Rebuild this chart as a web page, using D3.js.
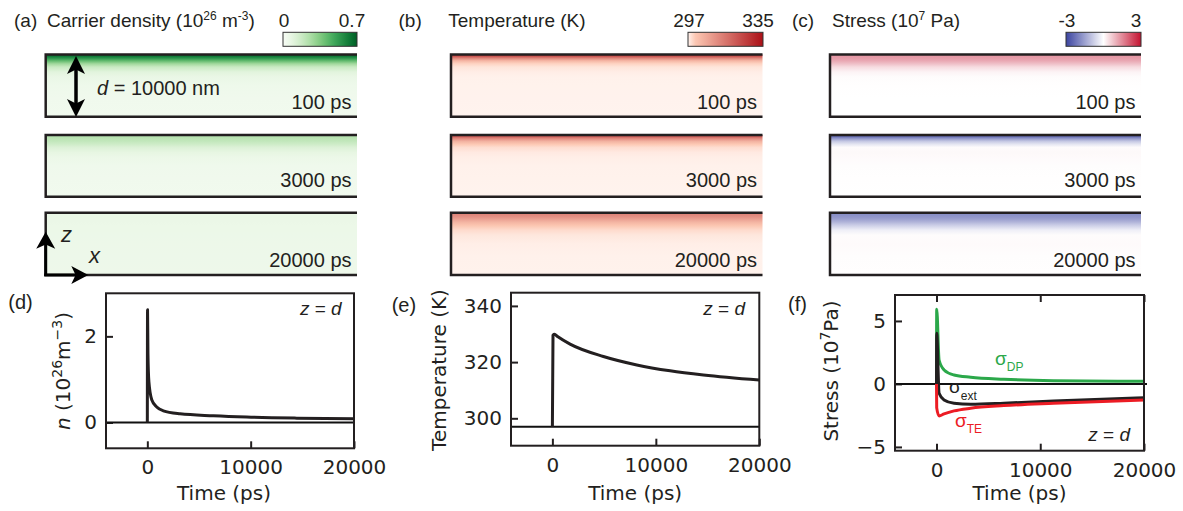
<!DOCTYPE html>
<html>
<head>
<meta charset="utf-8">
<script src="https://cdn.jsdelivr.net/npm/d3@7"></script>
<style>
  body { margin: 0; background: #fff; }
  svg { display: block; }
</style>
</head>
<body>
<svg id="fig"></svg>
<script>
// ---------- data ----------
const snapLabels = ['100 ps', '3000 ps', '20000 ps'];
// depth from top of film (fraction of d) for the colour maps
const depthFrac = [0, 0.03, 0.06, 0.1, 0.15, 0.2, 0.28, 0.36, 0.5, 0.7, 1];

// (a) carrier density, 10^26 m^-3
const carrier100   = [0.66, 0.62, 0.54, 0.42, 0.28, 0.18, 0.1, 0.065, 0.045, 0.035, 0.03];
const carrier3000  = [0.23, 0.23, 0.22, 0.2, 0.165, 0.12, 0.08, 0.055, 0.042, 0.036, 0.032];
const carrier20000 = [0.065, 0.065, 0.064, 0.062, 0.06, 0.058, 0.056, 0.054, 0.052, 0.05, 0.048];
// (b) temperature, K
const temp100   = [329, 322, 313, 304, 299.6, 298.2, 297.5, 297.2, 297.1, 297.05, 297];
const temp3000  = [324, 319, 312, 305, 300.5, 298.8, 297.8, 297.4, 297.2, 297.1, 297];
const temp20000 = [313.6, 313, 311.5, 308.5, 304.5, 301.5, 299, 298, 297.4, 297.2, 297.1];
// (c) stress, 10^7 Pa
const stress100   = [1.3, 1.3, 1.25, 1.1, 0.8, 0.45, 0.15, 0.04, 0.01, 0, 0];
const stress3000  = [-2.6, -2.2, -1.6, -0.9, -0.4, 0.05, 0.08, 0.06, 0.03, 0.01, 0];
const stress20000 = [-1.8, -1.8, -1.72, -1.55, -1.2, -0.8, -0.25, 0.04, 0.06, 0.03, 0.01];

const carrierBar = [0, 0.7];
const tempBar = [297, 335];
const stressBar = [-3, 3];

// (d) carrier density at z = d
const timeN    = [0, 20, 60, 150, 426, 910, 1550, 3165, 6390, 9620, 14460, 20000];
const densityN = [0, 2.62, 1.6, 0.95, 0.53, 0.36, 0.27, 0.2, 0.155, 0.125, 0.10, 0.085];
// (e) temperature at z = d
const timeT = [0, 60, 200, 500, 1710, 4930, 8160, 11380, 14600, 20000];
const tempT = [297, 329.6, 329.9, 329.1, 326.4, 322, 319, 316.9, 315.4, 313.6];
const tempBase = 297;
// (f) stress at z = d
const timeS    = [0, 20, 250, 730, 1690, 3290, 6490, 11280, 20000];
const sigmaDP  = [0, 5.93, 1.9, 1.11, 0.71, 0.53, 0.37, 0.26, 0.21];
const sigmaExt = [0, 4.02, -0.74, -1.27, -1.53, -1.61, -1.53, -1.35, -1.09];
const sigmaTE  = [0, -1.9, -2.54, -2.38, -2.14, -1.93, -1.72, -1.53, -1.27];

const timeTicks = [0, 10000, 20000];

// ---------- setup ----------
const W = 1183, H = 511;
const INK = '#231f20';
const ARIAL = 'Liberation Sans, Arial, sans-serif';
const DEJAVU = 'DejaVu Sans, sans-serif';

const svg = d3.select('#fig').attr('width', W).attr('height', H);
const defs = svg.append('defs');

// text with super/subscripts: parts = [{t, size, dy, it, fill}]
function rich(g, x, y, parts, opts) {
  const t = g.append('text').attr('x', x).attr('y', y)
    .attr('font-family', opts.family).attr('font-size', opts.size)
    .attr('fill', opts.fill || INK);
  if (opts.anchor) t.attr('text-anchor', opts.anchor);
  if (opts.transform) t.attr('transform', opts.transform);
  let shift = 0;
  parts.forEach(p => {
    const target = p.dy || 0;
    const ts = t.append('tspan').text(p.t).attr('dy', target - shift);
    shift = target;
    if (p.size) ts.attr('font-size', p.size);
    if (p.it) ts.attr('font-style', 'italic');
    if (p.fill) ts.attr('fill', p.fill);
  });
  return t;
}

// ---------- colour maps (top row) ----------
const carrierColor = d3.scaleSequential(d3.interpolateGreens).domain([0, 0.76]);
const tempColor = d3.scaleLinear().domain([297, 300.5, 335])
  .range([d3.interpolateReds(0.01), d3.interpolateReds(0.2), d3.interpolateReds(0.85)]);
const stressColor = d3.scaleLinear().domain([-3, 0, 3]).range(['#3b44a0', '#ffffff', '#c41230']);

const rowBands = [[54.5, 116.7], [135, 196.7], [212.7, 275]];
const rowLabelY = [109, 186.5, 266.5];

const mapPanels = [
  { key: 'a', x0: 45.7, x1: 357, color: carrierColor, profiles: [carrier100, carrier3000, carrier20000],
    bar: carrierBar, barFmt: d => d === 0 ? '0' : d.toFixed(1), bx0: 283, bx1: 357 },
  { key: 'b', x0: 451, x1: 762.5, color: tempColor, profiles: [temp100, temp3000, temp20000],
    bar: tempBar, barFmt: d => String(d), bx0: 688, bx1: 763 },
  { key: 'c', x0: 830, x1: 1141, color: stressColor, profiles: [stress100, stress3000, stress20000],
    bar: stressBar, barFmt: d => (d < 0 ? '-' : '') + Math.abs(d), bx0: 1066, bx1: 1141 }
];

const topG = svg.append('g');
const offScale = d3.scaleLinear().domain([0, 1]).range([0, 100]);

mapPanels.forEach(p => {
  p.profiles.forEach((vals, i) => {
    const [yT, yB] = rowBands[i];
    const id = `grad-${p.key}-${i}`;
    defs.append('linearGradient').attr('id', id)
      .attr('x1', 0).attr('y1', 0).attr('x2', 0).attr('y2', 1)
      .selectAll('stop').data(depthFrac).join('stop')
      .attr('offset', d => offScale(d) + '%')
      .attr('stop-color', (d, j) => p.color(vals[j]));
    topG.append('rect').attr('x', p.x0).attr('y', yT)
      .attr('width', p.x1 - p.x0).attr('height', yB - yT)
      .attr('fill', `url(#${id})`);
    topG.append('path')
      .attr('d', `M${p.x1},${yT}H${p.x0}V${yB}H${p.x1}`)
      .attr('fill', 'none').attr('stroke', INK).attr('stroke-width', 2.5);
    topG.append('text').attr('x', p.x1 - 5.5).attr('y', rowLabelY[i])
      .attr('text-anchor', 'end').attr('font-family', ARIAL).attr('font-size', 20)
      .attr('fill', INK).text(snapLabels[i]);
  });

  // colour bar
  const gid = `bar-${p.key}`;
  const frac = d3.scaleLinear().domain([0, 1]).range(p.bar);
  defs.append('linearGradient').attr('id', gid)
    .selectAll('stop').data(d3.range(0, 1.0001, 0.05)).join('stop')
    .attr('offset', d => offScale(d) + '%')
    .attr('stop-color', d => p.color(frac(d)));
  topG.append('rect').attr('x', p.bx0).attr('y', 32.3)
    .attr('width', p.bx1 - p.bx0).attr('height', 14)
    .attr('fill', `url(#${gid})`).attr('stroke', '#333').attr('stroke-width', 1);
  const bs = d3.scaleLinear().domain(p.bar).range([p.bx0 + 1, p.bx1 - 5]);
  topG.selectAll(null).data(p.bar).join('text')
    .attr('x', d => bs(d)).attr('y', 27)
    .attr('text-anchor', 'middle').attr('font-family', ARIAL).attr('font-size', 19)
    .attr('fill', INK).text(p.barFmt);
});

// titles
const tOpt = { family: ARIAL, size: 19 };
rich(topG, 14, 27, [{ t: '(a)' }], tOpt);
rich(topG, 47, 27, [{ t: 'Carrier density (10' }, { t: '26', size: 12, dy: -7 }, { t: ' m' }, { t: '-3', size: 12, dy: -7 }, { t: ')' }], tOpt);
rich(topG, 398.5, 27, [{ t: '(b)' }], tOpt);
rich(topG, 448.3, 27, [{ t: 'Temperature (K)' }], tOpt);
rich(topG, 792, 27, [{ t: '(c)' }], tOpt);
rich(topG, 832, 27, [{ t: 'Stress (10' }, { t: '7', size: 12, dy: -7 }, { t: ' Pa)' }], tOpt);

// thickness arrow and d label
function arrowHead(g, x, y, dir, len, wid) {
  let pts;
  if (dir === 'up') pts = [[x, y], [x - wid / 2, y + len], [x, y + len * 0.75], [x + wid / 2, y + len]];
  if (dir === 'down') pts = [[x, y], [x - wid / 2, y - len], [x, y - len * 0.75], [x + wid / 2, y - len]];
  if (dir === 'right') pts = [[x, y], [x - len, y - wid / 2], [x - len * 0.75, y], [x - len, y + wid / 2]];
  g.append('polygon').attr('points', pts.map(p => p.join(',')).join(' ')).attr('fill', '#000');
}
topG.append('line').attr('x1', 76).attr('x2', 76).attr('y1', 62).attr('y2', 110)
  .attr('stroke', '#000').attr('stroke-width', 3.5);
arrowHead(topG, 76, 56, 'up', 18, 18);
arrowHead(topG, 76, 117, 'down', 18, 18);
rich(topG, 97, 95, [{ t: 'd', it: true }, { t: ' = 10000 nm' }], { family: ARIAL, size: 20 });

// coordinate arrows
topG.append('line').attr('x1', 45.7).attr('x2', 45.7).attr('y1', 276).attr('y2', 240)
  .attr('stroke', '#000').attr('stroke-width', 3);
arrowHead(topG, 45.7, 231.7, 'up', 17, 19);
topG.append('line').attr('x1', 44.2).attr('x2', 80).attr('y1', 275).attr('y2', 275)
  .attr('stroke', '#000').attr('stroke-width', 3);
arrowHead(topG, 88.3, 275, 'right', 17, 18);
rich(topG, 61, 241.7, [{ t: 'z', it: true }], { family: ARIAL, size: 22 });
rich(topG, 89, 263.3, [{ t: 'x', it: true }], { family: ARIAL, size: 22 });

// ---------- bottom row: time traces ----------
const xDomain = [-4000, 20000];

function plotPanel(cfg) {
  const g = svg.append('g');
  const x = d3.scaleLinear().domain(xDomain).range([cfg.x0, cfg.x1]);
  const y = d3.scaleLinear().domain(cfg.yDomain).range([cfg.y1, cfg.y0]);

  const styleAxis = a => {
    a.select('.domain').remove();
    a.attr('font-family', DEJAVU).attr('font-size', 20);
    a.selectAll('.tick line').attr('stroke', INK).attr('stroke-width', 2);
    a.selectAll('.tick text').attr('fill', INK);
  };
  g.append('g').attr('transform', `translate(0,${cfg.y1})`)
    .call(d3.axisBottom(x).tickValues(timeTicks).tickSize(-7).tickPadding(12).tickFormat(d3.format('d')))
    .call(styleAxis);
  g.append('g').attr('transform', `translate(${cfg.x0},0)`)
    .call(d3.axisLeft(y).tickValues(cfg.yTicks).tickSize(-7).tickPadding(9).tickFormat(d3.format('d')))
    .call(styleAxis);
  if (cfg.topTicks) {
    g.append('g').attr('transform', `translate(0,${cfg.y0})`)
      .call(d3.axisTop(x).tickValues(timeTicks).tickSize(-7).tickFormat(''))
      .call(styleAxis);
  }

  // reference line
  g.append('line').attr('x1', cfg.x0).attr('x2', cfg.x1 + (cfg.lineExtra || 0))
    .attr('y1', y(cfg.base)).attr('y2', y(cfg.base))
    .attr('stroke', '#111').attr('stroke-width', 2);

  const line = d3.line().x(d => x(d[0])).y(d => y(d[1])).curve(d3.curveMonotoneX);
  cfg.series.forEach(s => {
    g.append('path').datum(d3.zip(s.t, s.v)).attr('d', line)
      .attr('fill', 'none').attr('stroke', s.color).attr('stroke-width', 3)
      .attr('stroke-linejoin', 'round');
  });

  g.append('rect').attr('x', cfg.x0).attr('y', cfg.y0)
    .attr('width', cfg.x1 - cfg.x0).attr('height', cfg.y1 - cfg.y0)
    .attr('fill', 'none').attr('stroke', INK).attr('stroke-width', 2);

  // axis labels
  g.append('text').attr('x', (cfg.x0 + cfg.x1) / 2 + (cfg.xlDx || 0)).attr('y', 500)
    .attr('text-anchor', 'middle').attr('font-family', DEJAVU).attr('font-size', 20)
    .attr('fill', INK).text('Time (ps)');
  rich(g, 0, 0, cfg.ylabel, {
    family: DEJAVU, size: 20, anchor: 'middle',
    transform: `translate(${cfg.ylx},${cfg.yly}) rotate(-90)`
  });
  rich(g, cfg.letterX, cfg.letterY, [{ t: cfg.letter }], { family: ARIAL, size: 20 });
  rich(g, cfg.zdX, cfg.zdY, [{ t: 'z', it: true }, { t: ' = ' }, { t: 'd', it: true }],
    { family: ARIAL, size: 19, anchor: 'end' });
  return { g, x, y };
}

plotPanel({
  x0: 106, x1: 354, y0: 293.3, y1: 448.3, yDomain: [-0.6, 3.0], yTicks: [0, 2], base: 0, xlDx: -6,
  series: [{ t: timeN, v: densityN, color: INK }],
  ylabel: [{ t: 'n', it: true }, { t: ' (10' }, { t: '26', size: 14, dy: -8 }, { t: 'm' }, { t: '\u22123', size: 14, dy: -8 }, { t: ')' }],
  ylx: 69.6, yly: 371, letter: '(d)', letterX: 8.3, letterY: 309, zdX: 341.7, zdY: 315
});

plotPanel({
  x0: 511, x1: 759.3, y0: 292.7, y1: 445.7, yDomain: [290.25, 344.7], yTicks: [300, 320, 340], base: tempBase,
  series: [{ t: timeT, v: tempT, color: INK }],
  ylabel: [{ t: 'Temperature (K)' }],
  ylx: 446.3, yly: 370, letter: '(e)', letterX: 391.7, letterY: 312, zdX: 745, zdY: 315
});

const pf = plotPanel({
  x0: 895, x1: 1144, y0: 295, y1: 450.7, yDomain: [-5.3, 7.06], yTicks: [-5, 0, 5], base: 0, lineExtra: 3,
  topTicks: true,
  series: [
    { t: timeS, v: sigmaDP, color: '#2ba84a' },
    { t: timeS, v: sigmaExt, color: INK },
    { t: timeS, v: sigmaTE, color: '#ec1c24' }
  ],
  ylabel: [{ t: 'Stress (10' }, { t: '7', size: 14, dy: -8 }, { t: 'Pa)' }],
  ylx: 838, yly: 371, letter: '(f)', letterX: 788, letterY: 311, zdX: 1130, zdY: 441
});

// sigma labels
const sOpt = fill => ({ family: ARIAL, size: 19, fill });
rich(pf.g, 995, 365, [{ t: '\u03c3' }, { t: 'DP', size: 12, dy: 6 }], sOpt('#2ba84a'));
rich(pf.g, 949, 392.7, [{ t: '\u03c3' }, { t: 'ext', size: 12, dy: 7 }], sOpt(INK));
rich(pf.g, 955, 426.7, [{ t: '\u03c3' }, { t: 'TE', size: 12, dy: 6 }], sOpt('#ec1c24'));
</script>
</body>
</html>
